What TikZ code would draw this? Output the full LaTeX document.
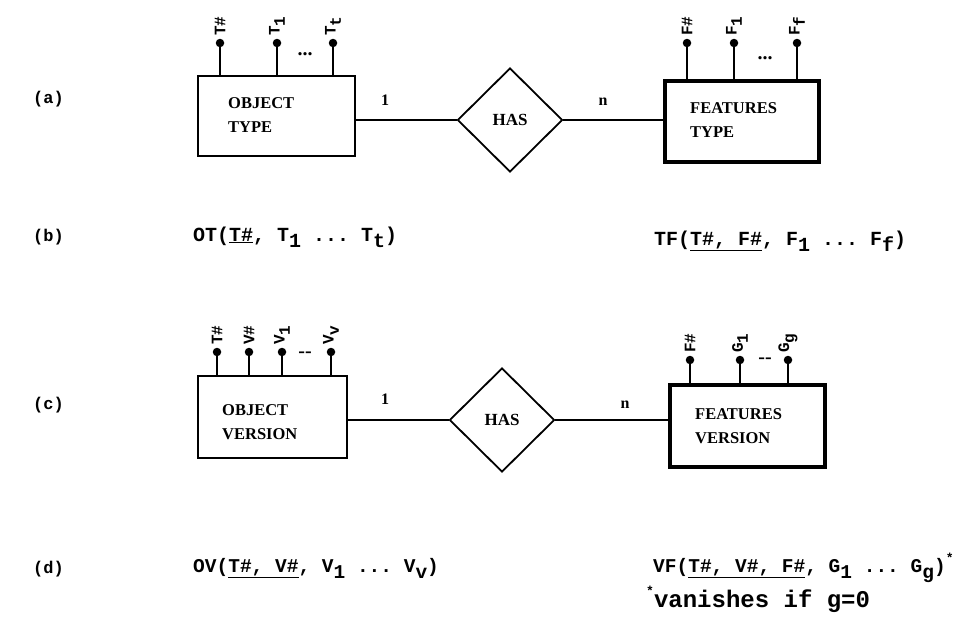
\documentclass[tikz,border=0pt]{standalone}
\usepackage{fontspec}
\setmainfont{Liberation Serif}
\setmonofont{Liberation Mono}
\usetikzlibrary{shapes.geometric}
\newcommand\lsub[1]{\raisebox{-0.6ex}{#1}}
\newcommand\lsup[1]{\raisebox{0.9ex}{\fontsize{13}{13}\selectfont #1}}
\begin{document}
\begin{tikzpicture}[x=1pt,y=-1pt,
 ent/.style={draw, line width=1.8pt, inner sep=0pt},
 went/.style={draw, line width=4.2pt, inner sep=0pt},
 rel/.style={diamond, draw, line width=1.8pt, inner sep=0pt, minimum width=105pt, minimum height=104pt, font=\fontsize{17}{19}\selectfont\bfseries},
 conn/.style={line width=1.4pt},
 ball/.style={circle, fill, inner sep=0pt, minimum size=8.5pt},
 stick/.style={line width=2.6pt},
 attr/.style={rotate=90, anchor=west, inner sep=0pt, font=\fontsize{16}{18}\selectfont\ttfamily\bfseries},
 elbl/.style={anchor=west, align=left, inner sep=0pt, font=\fontsize{16.5}{24}\selectfont\bfseries},
 card/.style={font=\fontsize{16}{18}\selectfont\bfseries, inner sep=0pt},
 rowlbl/.style={anchor=base west, inner sep=0pt, font=\fontsize{17}{20}\selectfont\ttfamily\bfseries},
 reltxt/.style={anchor=base west, inner sep=0pt, font=\fontsize{20}{24}\selectfont\ttfamily\bfseries},
 dotsl/.style={font=\fontsize{20}{22}\selectfont\bfseries, inner sep=0pt}
]
\useasboundingbox (0,0) rectangle (961,624);

% ---------- row labels
\node[rowlbl] (la) at (33,103) {(a)};
\node[rowlbl] (lb) at (33,241) {(b)};
\node[rowlbl] (lc) at (33,409) {(c)};
\node[rowlbl] (ld) at (33,573) {(d)};

% ---------- (a)
\node[ent, minimum width=157pt, minimum height=80pt] (ot) at (276.5,116) {};
\node[elbl] (otl) at (228,115) {OBJECT\\TYPE};
\node[rel] (has1) at (510,120) {HAS};
\node[went, minimum width=154pt, minimum height=81pt] (ft) at (742,121.5) {};
\node[elbl] (ftl) at (690,120) {FEATURES\\TYPE};
\draw[conn] (ot.east |- has1.west) -- (has1.west);
\draw[conn] (has1.east) -- (ft.west |- has1.east);
\node[card] (c1a) at (385,100) {1};
\node[card] (cna) at (603,102) {n};

\foreach \nm/\x/\txt in {ta/220/{T\#}, tb/277/{T\lsub{1}}, tc/333/{T\lsub{t}}}{
  \node[ball] (\nm) at (\x,43) {};
  \draw[stick] (\nm) -- (\nm |- ot.north);
  \node[attr] (\nm-l) at (\x,36) {\txt};
}
\node[dotsl] (otd) at (305,54) {...};
\foreach \nm/\x/\txt in {fa/687/{F\#}, fb/734/{F\lsub{1}}, fc/797/{F\lsub{f}}}{
  \node[ball] (\nm) at (\x,43) {};
  \draw[stick] (\nm) -- (\nm |- ft.north);
  \node[attr] (\nm-l) at (\x,36) {\txt};
}
\node[dotsl] (ftd) at (765,58) {...};

% ---------- (b)
\node[reltxt] (otrel) at (193,241) {OT(\underline{T\#}, T\lsub{1} ... T\lsub{t})};
\node[reltxt] (tfrel) at (654,245) {TF(\underline{T\#, F\#}, F\lsub{1} ... F\lsub{f})};

% ---------- (c)
\node[ent, minimum width=149pt, minimum height=82pt] (ov) at (272.5,417) {};
\node[elbl] (ovl) at (222,422) {OBJECT\\VERSION};
\node[rel] (has2) at (502,420) {HAS};
\node[went, minimum width=155pt, minimum height=82pt] (fv) at (747.5,426) {};
\node[elbl] (fvl) at (695,426) {FEATURES\\VERSION};
\draw[conn] (ov.east |- has2.west) -- (has2.west);
\draw[conn] (has2.east) -- (fv.west |- has2.east);
\node[card] (c1c) at (385,399) {1};
\node[card] (cnc) at (625,405) {n};

\foreach \nm/\x/\txt in {va/217/{T\#}, vb/249/{V\#}, vc/282/{V\lsub{1}}, vd/331/{V\lsub{v}}}{
  \node[ball] (\nm) at (\x,352) {};
  \draw[stick] (\nm) -- (\nm |- ov.north);
  \node[attr] (\nm-l) at (\x,345) {\txt};
}
\node[dotsl] (ovd) at (305,355) {{-}{-}};
\foreach \nm/\x/\txt in {ga/690/{F\#}, gb/740/{G\lsub{1}}, gc/788/{G\lsub{g}}}{
  \node[ball] (\nm) at (\x,360) {};
  \draw[stick] (\nm) -- (\nm |- fv.north);
  \node[attr] (\nm-l) at (\x,353) {\txt};
}
\node[dotsl] (fvd) at (765,361) {{-}{-}};

% ---------- (d)
\node[reltxt, font=\fontsize{19.5}{24}\selectfont\ttfamily\bfseries] (ovrel) at (193,572) {OV(\underline{T\#, V\#}, V\lsub{1} ... V\lsub{v})};
\node[reltxt, font=\fontsize{19.5}{24}\selectfont\ttfamily\bfseries] (vfrel) at (653,572) {VF(\underline{T\#, V\#, F\#}, G\lsub{1} ... G\lsub{g})\lsup{*}};
\node[anchor=base west, inner sep=0pt, font=\fontsize{24}{26}\selectfont\ttfamily\bfseries] (van) at (646,607) {\lsup{*}vanishes if g=0};
\end{tikzpicture}
\end{document}
